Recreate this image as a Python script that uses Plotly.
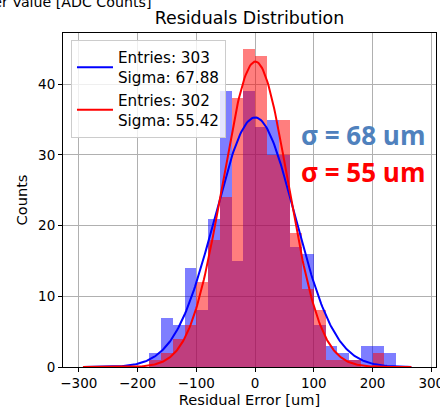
import numpy as np
import plotly.graph_objects as go

# ---- data ----
bin_width = 20
bin_left_edges = [-180, -160, -140, -120, -100, -80, -60, -40, -20, 0, 20,
                  40, 60, 80, 100, 120, 140, 160, 180, 200, 220]
counts_blue = [2, 7, 6, 14, 8, 21, 39, 15, 39, 34, 35,
               30, 17, 16, 6, 3, 2, 1, 3, 3, 2]
counts_red = [1, 2, 4, 6, 12, 18, 24, 38, 45, 44, 30,
              35, 19, 11, 8, 1, 1, 1, 0, 2, 0]

entries_blue, sigma_blue, mean_blue, amp_blue = 303, 67.88, 0.0, 35.3
entries_red, sigma_red, mean_red, amp_red = 302, 55.42, 0.5, 43.2
fit_x_min, fit_x_max = -293, 266

x_ticks = [-300, -200, -100, 0, 100, 200, 300]
y_ticks = [0, 10, 20, 30, 40]

centers = [e + bin_width / 2 for e in bin_left_edges]
fx = np.linspace(fit_x_min, fit_x_max, 300)
fy_blue = amp_blue * np.exp(-0.5 * ((fx - mean_blue) / sigma_blue) ** 2)
fy_red = amp_red * np.exp(-0.5 * ((fx - mean_red) / sigma_red) ** 2)

FONT = "DejaVu Sans"

fig = go.Figure()
fig.add_trace(go.Bar(x=centers, y=counts_blue, width=bin_width,
                     marker=dict(color="blue", line=dict(width=0)),
                     opacity=0.5, showlegend=False, hoverinfo="skip"))
fig.add_trace(go.Bar(x=centers, y=counts_red, width=bin_width,
                     marker=dict(color="red", line=dict(width=0)),
                     opacity=0.5, showlegend=False, hoverinfo="skip"))
fig.add_trace(go.Scatter(x=fx, y=fy_blue, mode="lines",
                         line=dict(color="blue", width=2),
                         name=f"Entries: {entries_blue}<br>Sigma: {sigma_blue:.2f}"))
fig.add_trace(go.Scatter(x=fx, y=fy_red, mode="lines",
                         line=dict(color="red", width=2),
                         name=f"Entries: {entries_red}<br>Sigma: {sigma_red:.2f}"))

axis_common = dict(showline=True, linecolor="black", linewidth=1, mirror=True,
                   ticks="outside", ticklen=4, tickcolor="black", tickwidth=1,
                   showgrid=True, gridcolor="#b0b0b0", gridwidth=1,
                   zeroline=False, layer="above traces",
                   ticklabeloverflow="allow", automargin=False,
                   tickfont=dict(family=FONT, size=13.5, color="black"))

fig.update_layout(
    width=440, height=412,
    margin=dict(l=63, r=4, t=33, b=45, autoexpand=False),
    paper_bgcolor="white", plot_bgcolor="white",
    barmode="overlay", bargap=0,
    font=dict(family=FONT, size=14, color="black"),
    title=dict(text="Residuals Distribution", x=0.567, xanchor="center",
               y=1 - 18 / 412, yanchor="middle",
               font=dict(family=FONT, size=17.4, color="black")),
    xaxis=dict(range=[-327, 308], tickvals=x_ticks,
               title=dict(text="Residual Error [um]", standoff=3,
                          font=dict(family=FONT, size=14.6, color="black")),
               **axis_common),
    yaxis=dict(range=[0, 47.25], tickvals=y_ticks,
               title=dict(text="Counts", standoff=7,
                          font=dict(family=FONT, size=14.6, color="black")),
               **axis_common),
    legend=dict(x=0.0214, y=0.979, xanchor="left", yanchor="top",
                bgcolor="rgba(255,255,255,0.8)", bordercolor="#cccccc",
                borderwidth=1, font=dict(family=FONT, size=15.2, color="black"),
                itemwidth=36),
    showlegend=True,
)

fig.add_annotation(text="Parameter Value [ADC Counts]", xref="paper", yref="paper",
                   x=(153 - 63) / 373, y=1 + (33 - 2) / 334,
                   xanchor="right", yanchor="middle", showarrow=False,
                   font=dict(family=FONT, size=14.2, color="black"))
fig.add_annotation(text="<b>σ = 68 um</b>", xref="paper", yref="paper",
                   x=(363 - 63) / 373, y=1 - (135 - 33) / 334,
                   xanchor="center", yanchor="middle", showarrow=False,
                   font=dict(family="Open Sans", size=26, color="#4f81bd"))
fig.add_annotation(text="<b>σ = 55 um</b>", xref="paper", yref="paper",
                   x=(363 - 63) / 373, y=1 - (172 - 33) / 334,
                   xanchor="center", yanchor="middle", showarrow=False,
                   font=dict(family="Open Sans", size=26, color="red"))

fig.write_html("out.html")
